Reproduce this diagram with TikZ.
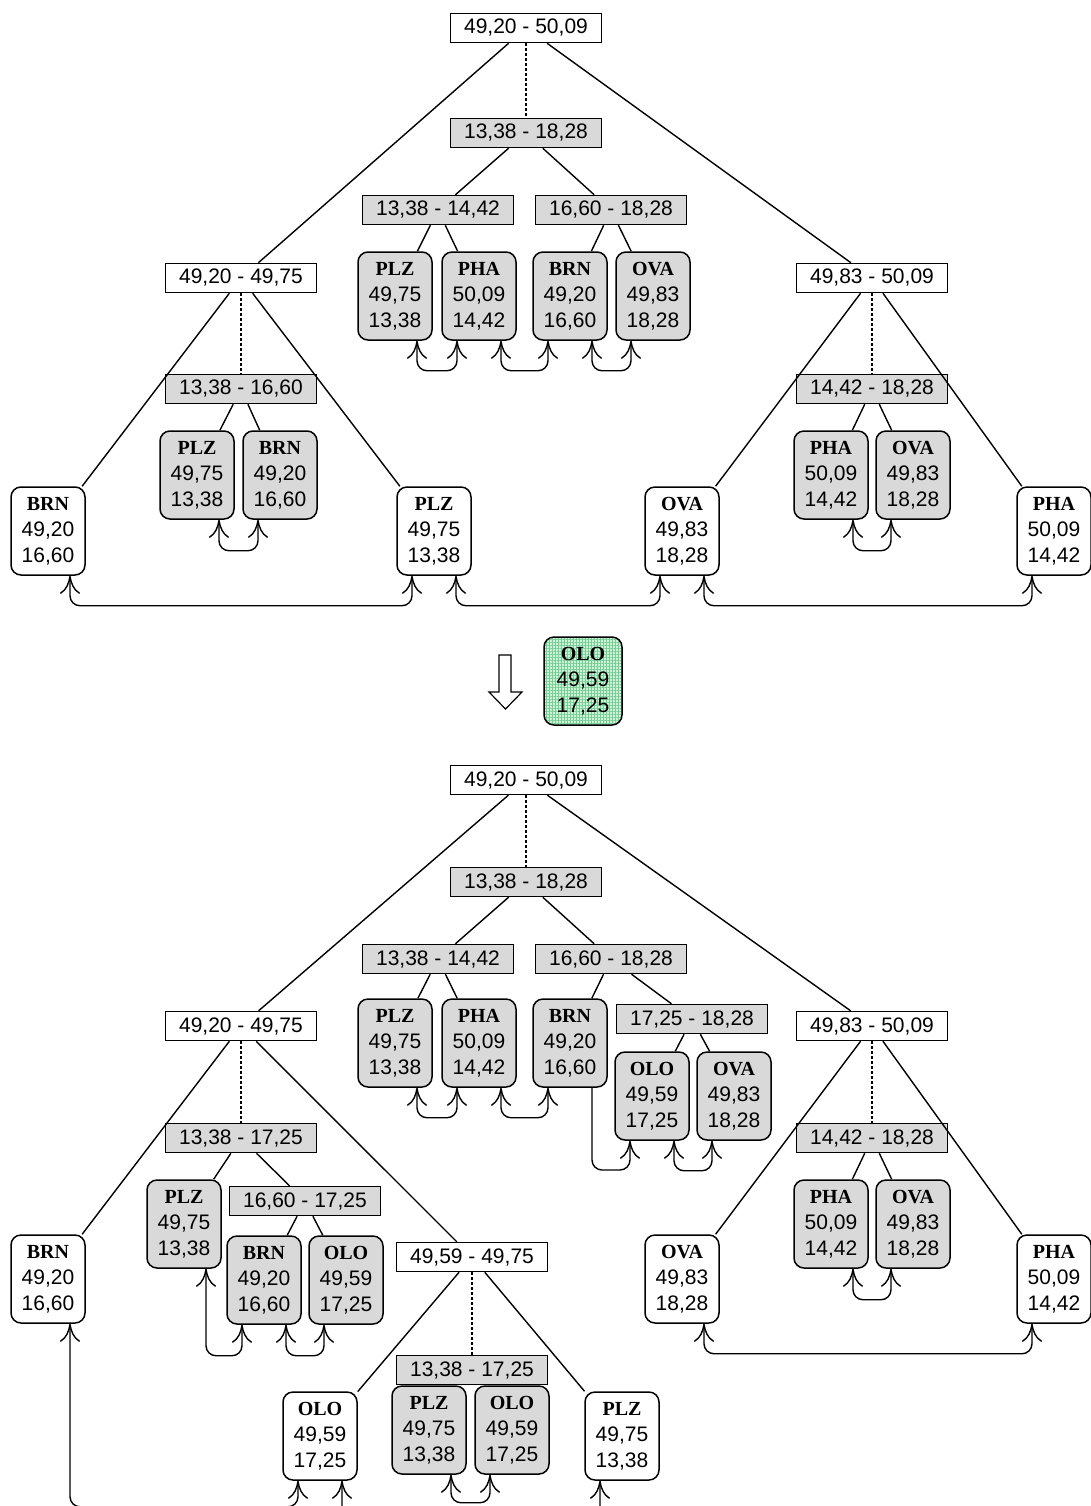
\documentclass[tikz,border=0pt]{standalone}
\usepackage{fontspec}
\setmainfont{Liberation Sans}
\newfontfamily\tnr{Liberation Serif}
\usetikzlibrary{arrows.meta,patterns.meta}
\definecolor{leafgray}{RGB}{217,217,217}
\definecolor{olobase}{RGB}{205,242,215}
\definecolor{ologrid}{RGB}{120,205,150}
\newcommand{\lf}[3]{{\tnr\bfseries\fontsize{10}{13}\selectfont #1}\\#2\\#3}
\tikzset{
  rng/.style={draw, line width=0.75pt, minimum width=75.5pt, minimum height=14.5pt, inner sep=0pt, font=\fontsize{10.5}{13}\selectfont},
  rngw/.style={rng, fill=white},
  rngg/.style={rng, fill=leafgray},
  leaf/.style={draw, line width=0.75pt, rounded corners=5pt, minimum width=37pt, minimum height=44pt, inner sep=0pt, align=center, font=\fontsize{10.5}{13}\selectfont},
  leafw/.style={leaf, fill=white},
  leafg/.style={leaf, fill=leafgray},
  leafo/.style={leaf, preaction={fill=olobase}, pattern={Hatch[angle=0,distance=1.5pt,line width=0.3pt]}, pattern color=ologrid},
  tline/.style={line width=0.7pt},
  dotline/.style={line width=0.7pt, dash pattern=on 1.5pt off 1pt},
  cmtip/.tip={Computer Modern Rightarrow[length=9pt,width=10pt,line width=0.7pt]},
  lnk/.style={line width=0.7pt, rounded corners=5pt, cmtip-cmtip},
  lnkend/.style={line width=0.7pt, rounded corners=5pt, cmtip-},
}
\begin{document}
\begin{tikzpicture}[x=0.5pt,y=-0.5pt]
\useasboundingbox (0,0) rectangle (1091,1506);
\clip (0,0) rectangle (1091,1506);
% ================= TOP TREE =================
\node[rngw] (tR) at (526,28) {49,20 - 50,09};
\node[rngg] (tG) at (526,133) {13,38 - 18,28};
\node[rngg] (tGa) at (438,210) {13,38 - 14,42};
\node[rngg] (tGb) at (611,210) {16,60 - 18,28};
\node[leafg] (tPLZ1) at (395,296) {\lf{PLZ}{49,75}{13,38}};
\node[leafg] (tPHA1) at (479,296) {\lf{PHA}{50,09}{14,42}};
\node[leafg] (tBRN1) at (570,296) {\lf{BRN}{49,20}{16,60}};
\node[leafg] (tOVA1) at (653,296) {\lf{OVA}{49,83}{18,28}};
\node[rngw] (tL) at (241,278) {49,20 - 49,75};
\node[rngw] (tRr) at (872,278) {49,83 - 50,09};
\node[rngg] (tLG) at (241,389) {13,38 - 16,60};
\node[rngg] (tRG) at (872,389) {14,42 - 18,28};
\node[leafg] (tPLZ2) at (197,475) {\lf{PLZ}{49,75}{13,38}};
\node[leafg] (tBRN2) at (280,475) {\lf{BRN}{49,20}{16,60}};
\node[leafg] (tPHA2) at (831,475) {\lf{PHA}{50,09}{14,42}};
\node[leafg] (tOVA2) at (913,475) {\lf{OVA}{49,83}{18,28}};
\node[leafw] (tBRN3) at (48,531) {\lf{BRN}{49,20}{16,60}};
\node[leafw] (tPLZ3) at (434,531) {\lf{PLZ}{49,75}{13,38}};
\node[leafw] (tOVA3) at (682,531) {\lf{OVA}{49,83}{18,28}};
\node[leafw] (tPHA3) at (1054,531) {\lf{PHA}{50,09}{14,42}};
% edges
\draw[tline] (tR) -- (tL);
\draw[tline] (tR) -- (tRr);
\draw[dotline] (tR) -- (tG);
\draw[tline] (tG) -- (tGa);
\draw[tline] (tG) -- (tGb);
\draw[tline] (tGa) -- (tPLZ1);
\draw[tline] (tGa) -- (tPHA1);
\draw[tline] (tGb) -- (tBRN1);
\draw[tline] (tGb) -- (tOVA1);
\draw[tline] (tL) -- (tBRN3);
\draw[tline] (tL) -- (tPLZ3);
\draw[dotline] (tL) -- (tLG);
\draw[tline] (tLG) -- (tPLZ2);
\draw[tline] (tLG) -- (tBRN2);
\draw[tline] (tRr) -- (tOVA3);
\draw[tline] (tRr) -- (tPHA3);
\draw[dotline] (tRr) -- (tRG);
\draw[tline] (tRG) -- (tPHA2);
\draw[tline] (tRG) -- (tOVA2);
% links
\draw[lnk] ([xshift=11pt]tPLZ1.south) -- ++(0,30) -| ([xshift=-11pt]tPHA1.south);
\draw[lnk] ([xshift=11pt]tPHA1.south) -- ++(0,30) -| ([xshift=-11pt]tBRN1.south);
\draw[lnk] ([xshift=11pt]tBRN1.south) -- ++(0,30) -| ([xshift=-11pt]tOVA1.south);
\draw[lnk] ([xshift=11pt]tPLZ2.south) -- ++(0,31) -| ([xshift=-11pt]tBRN2.south);
\draw[lnk] ([xshift=11pt]tPHA2.south) -- ++(0,31) -| ([xshift=-11pt]tOVA2.south);
\draw[lnk] ([xshift=11pt]tBRN3.south) -- ++(0,30) -| ([xshift=-11pt]tPLZ3.south);
\draw[lnk] ([xshift=11pt]tPLZ3.south) -- ++(0,30) -| ([xshift=-11pt]tOVA3.south);
\draw[lnk] ([xshift=11pt]tOVA3.south) -- ++(0,30) -| ([xshift=-11pt]tPHA3.south);
% ================= MIDDLE =================
\draw[line width=0.6pt, fill=white] (499,655) -- (511,655) -- (511,692) -- (522,692) -- (505.5,709) -- (489,692) -- (499,692) -- cycle;
\node[leafo, minimum width=39pt] (nOLO) at (583,681) {\lf{OLO}{49,59}{17,25}};
% ================= BOTTOM TREE =================
\node[rngw] (bR) at (526,780) {49,20 - 50,09};
\node[rngg] (bG) at (526,882) {13,38 - 18,28};
\node[rngg] (bGa) at (438,959) {13,38 - 14,42};
\node[rngg] (bGb) at (611,959) {16,60 - 18,28};
\node[leafg] (bPLZ1) at (395,1043) {\lf{PLZ}{49,75}{13,38}};
\node[leafg] (bPHA1) at (479,1043) {\lf{PHA}{50,09}{14,42}};
\node[leafg] (bBRN1) at (570,1043) {\lf{BRN}{49,20}{16,60}};
\node[rngg] (bGc) at (692,1019) {17,25 - 18,28};
\node[leafg] (bOLO1) at (652,1096) {\lf{OLO}{49,59}{17,25}};
\node[leafg] (bOVA1) at (734,1096) {\lf{OVA}{49,83}{18,28}};
\node[rngw] (bL) at (241,1026) {49,20 - 49,75};
\node[rngw] (bRr) at (872,1026) {49,83 - 50,09};
\node[rngg] (bLG) at (241,1138) {13,38 - 17,25};
\node[leafg] (bPLZ2) at (184,1224) {\lf{PLZ}{49,75}{13,38}};
\node[rngg] (bLGb) at (305,1201) {16,60 - 17,25};
\node[leafg] (bBRN2) at (264,1280) {\lf{BRN}{49,20}{16,60}};
\node[leafg] (bOLO2) at (346,1280) {\lf{OLO}{49,59}{17,25}};
\node[rngw] (bM) at (472,1257) {49,59 - 49,75};
\node[rngg] (bMG) at (472,1370) {13,38 - 17,25};
\node[leafw] (bOLO3) at (320,1436) {\lf{OLO}{49,59}{17,25}};
\node[leafg] (bPLZ3) at (429,1430) {\lf{PLZ}{49,75}{13,38}};
\node[leafg] (bOLO4) at (512,1430) {\lf{OLO}{49,59}{17,25}};
\node[leafw] (bPLZ4) at (622,1436) {\lf{PLZ}{49,75}{13,38}};
\node[leafw] (bBRN3) at (48,1279) {\lf{BRN}{49,20}{16,60}};
\node[leafw] (bOVA3) at (682,1279) {\lf{OVA}{49,83}{18,28}};
\node[leafw] (bPHA3) at (1054,1279) {\lf{PHA}{50,09}{14,42}};
\node[rngg] (bRG) at (872,1138) {14,42 - 18,28};
\node[leafg] (bPHA2) at (831,1224) {\lf{PHA}{50,09}{14,42}};
\node[leafg] (bOVA2) at (913,1224) {\lf{OVA}{49,83}{18,28}};
% edges
\draw[tline] (bR) -- (bL);
\draw[tline] (bR) -- (bRr);
\draw[dotline] (bR) -- (bG);
\draw[tline] (bG) -- (bGa);
\draw[tline] (bG) -- (bGb);
\draw[tline] (bGa) -- (bPLZ1);
\draw[tline] (bGa) -- (bPHA1);
\draw[tline] (bGb) -- (bBRN1);
\draw[tline] (bGb) -- (bGc);
\draw[tline] (bGc) -- (bOLO1);
\draw[tline] (bGc) -- (bOVA1);
\draw[tline] (bL) -- (bBRN3);
\draw[tline] (bL) -- (bM);
\draw[dotline] (bL) -- (bLG);
\draw[tline] (bLG) -- (bPLZ2);
\draw[tline] (bLG) -- (bLGb);
\draw[tline] (bLGb) -- (bBRN2);
\draw[tline] (bLGb) -- (bOLO2);
\draw[tline] (bM) -- (bOLO3);
\draw[tline] (bM) -- (bPLZ4);
\draw[dotline] (bM) -- (bMG);
\draw[tline] (bMG) -- (bPLZ3);
\draw[tline] (bMG) -- (bOLO4);
\draw[tline] (bRr) -- (bOVA3);
\draw[tline] (bRr) -- (bPHA3);
\draw[dotline] (bRr) -- (bRG);
\draw[tline] (bRG) -- (bPHA2);
\draw[tline] (bRG) -- (bOVA2);
% links
\draw[lnk] ([xshift=11pt]bPLZ1.south) -- ++(0,30) -| ([xshift=-11pt]bPHA1.south);
\draw[lnk] ([xshift=11pt]bPHA1.south) -- ++(0,30) -| ([xshift=-11pt]bBRN1.south);
\draw[lnkend] ([xshift=-11pt]bOLO1.south) |- ([xshift=11pt]bBRN1.south |- 0,1170) -- ([xshift=11pt]bBRN1.south);
\draw[lnk] ([xshift=11pt]bOLO1.south) -- ++(0,30) -| ([xshift=-11pt]bOVA1.south);
\draw[lnk] ([xshift=11pt]bPLZ2.south) -- ++(0,87) -| ([xshift=-11pt]bBRN2.south);
\draw[lnk] ([xshift=11pt]bBRN2.south) -- ++(0,31) -| ([xshift=-11pt]bOLO2.south);
\draw[lnk] ([xshift=11pt]bPHA2.south) -- ++(0,31) -| ([xshift=-11pt]bOVA2.south);
\draw[lnk] ([xshift=11pt]bOVA3.south) -- ++(0,30) -| ([xshift=-11pt]bPHA3.south);
\draw[lnk] ([xshift=11pt]bPLZ3.south) -- ++(0,28) -| ([xshift=-11pt]bOLO4.south);
\draw[lnk] ([xshift=11pt]bBRN3.south) -- ++(0,183) -| ([xshift=-11pt]bOLO3.south);
\draw[lnk] ([xshift=11pt]bOLO3.south) -- ++(0,60) -| ([xshift=-11pt]bPLZ4.south);
\end{tikzpicture}
\end{document}
